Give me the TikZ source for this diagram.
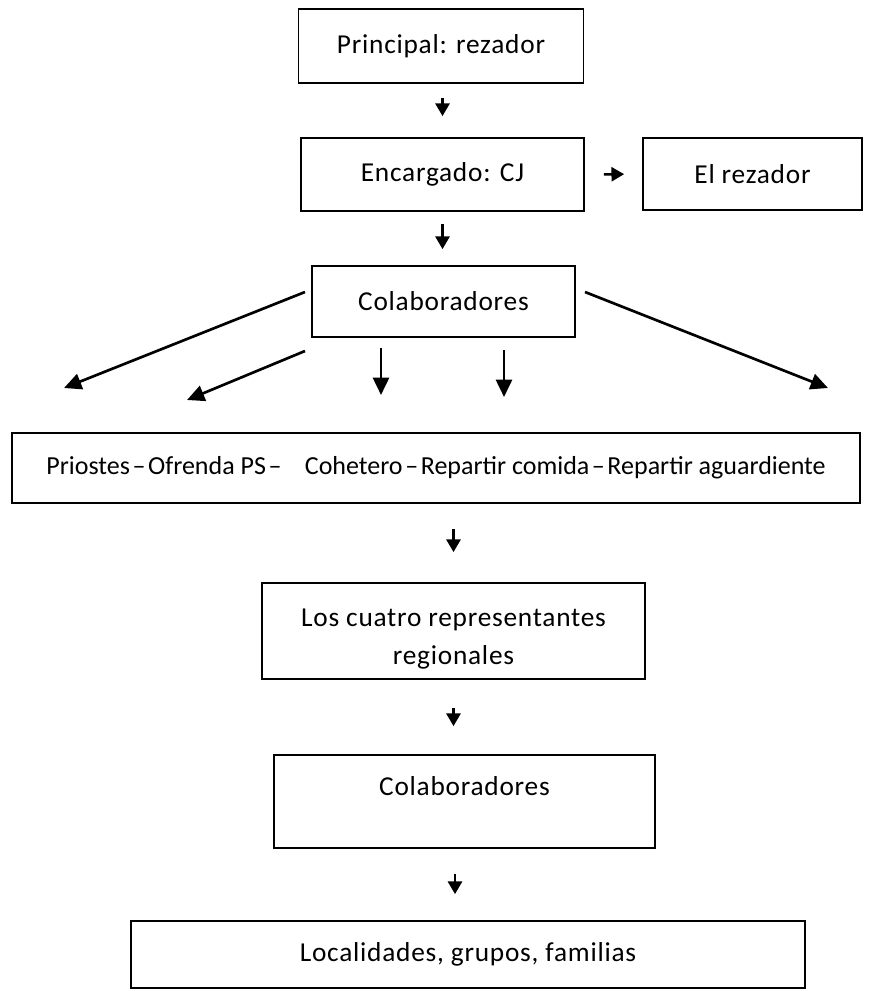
\documentclass[tikz,border=0pt]{standalone}
\usepackage{fontspec}
\setmainfont{Carlito}[LetterSpace=2.8]
\newfontfamily\widefont{Carlito}
\usetikzlibrary{arrows.meta}
\begin{document}
\begin{tikzpicture}[x=0.75pt,y=-0.75pt,
  box/.style={draw, line width=1.3pt, rectangle, inner sep=0pt, align=center,
    font=\fontsize{20.5}{28.5}\selectfont},
  arr/.style={line width=1.9pt, -{Triangle[length=9.5pt,width=10.5pt]}},
  fan/.style={line width=2pt, -{Triangle[length=13pt,width=12pt]}},
]
\fill[white] (0,0) rectangle (873,991);
\useasboundingbox (0,0) rectangle (873,991);

\node[box, minimum width=213.75pt, minimum height=55.5pt] (p) at (441,46) {Principal: rezador};
\node[box, minimum width=212.25pt, minimum height=54.75pt] (e) at (442.5,174.5) {Encargado: CJ};
\node[box, minimum width=164.25pt, minimum height=54pt] (r) at (752.5,174) {El rezador};
\node[box, minimum width=197.25pt, minimum height=53.25pt] (c) at (443.5,301.5) {Colaboradores};
\node[box, minimum width=636pt, minimum height=52.5pt, font=\widefont\fontsize{19.5}{24}\selectfont] (w) at (436,468)
  {Priostes\hspace{0.1em}–\hspace{0.1em}Ofrenda PS\hspace{0.1em}–\hspace{0.9em}Cohetero\hspace{0.1em}–\hspace{0.1em}Repartir comida\hspace{0.1em}–\hspace{0.1em}Repartir aguardiente};
\node[box, minimum width=287.25pt, minimum height=72pt] (q) at (453.5,631) {\rule{0pt}{25pt}Los cuatro representantes\\regionales};
\node[box, minimum width=285.75pt, minimum height=69.75pt, text height=15pt, text depth=24.5pt] (c2) at (464.5,801.5) {Colaboradores};
\node[box, minimum width=505.5pt, minimum height=50.25pt] (l) at (468,954.5) {Localidades, grupos, familias};

\draw[arr, shorten <=10.5pt, shorten >=15.75pt] (p.south -| e.north) -- (e.north);
\draw[arr, shorten <=14.25pt, shorten >=13.5pt] (e.east) -- (r.west);
\draw[arr, shorten <=9pt, shorten >=12pt] (e.south) -- (e.south |- c.north);

\coordinate (s1) at (305,292); \coordinate (t1) at (64,388);
\coordinate (s2) at (305,351); \coordinate (t2) at (187,400);
\coordinate (s3) at (381,348); \coordinate (t3) at (381,395);
\coordinate (s4) at (504,350); \coordinate (t4) at (504,397);
\coordinate (s5) at (585,292); \coordinate (t5) at (828,388);
\draw[fan] (s1) -- (t1);
\draw[fan] (s2) -- (t2);
\draw[fan] (s3) -- (t3);
\draw[fan] (s4) -- (t4);
\draw[fan] (s5) -- (t5);

\draw[arr, shorten <=18.75pt, shorten >=22.5pt] (w.south -| q.north) -- (q.north);
\draw[arr, shorten <=21pt, shorten >=21pt] (q.south) -- (q.south |- c2.north);
\draw[arr, shorten <=18.75pt, shorten >=19.5pt] (c2.south -| 455,0) -- (l.north -| 455,0);
\end{tikzpicture}
\end{document}
